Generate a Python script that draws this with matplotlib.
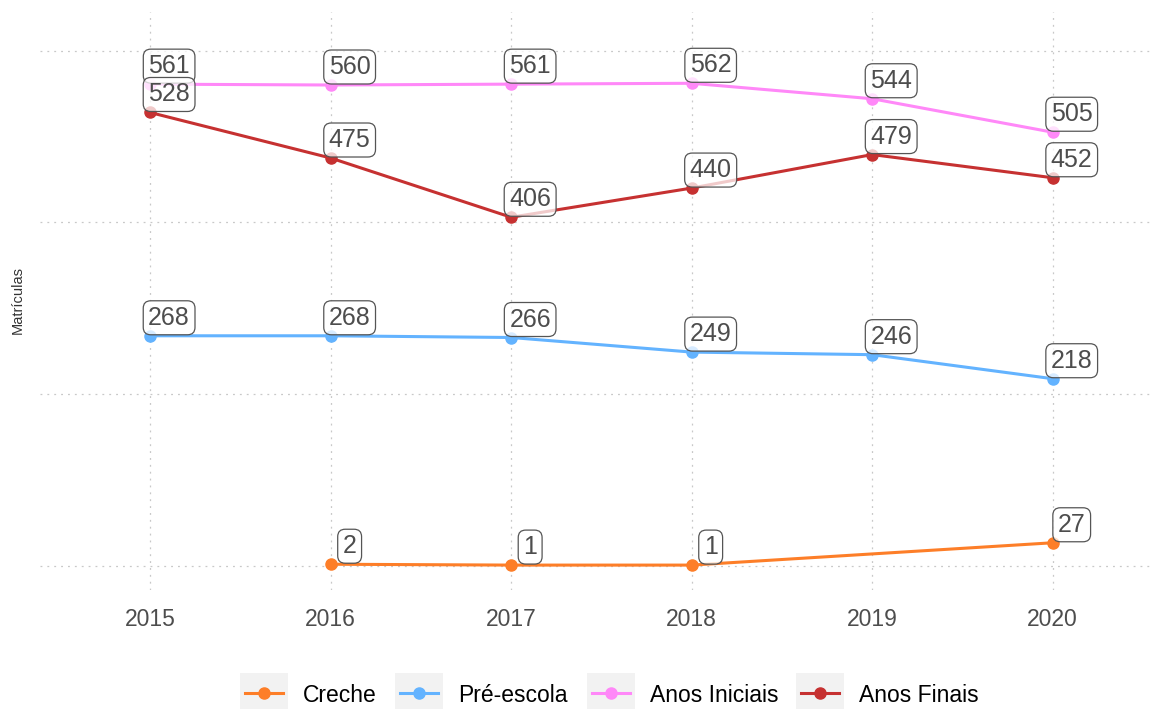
import matplotlib as mpl
mpl.use('Agg')
from matplotlib import pyplot as plt
from matplotlib.patches import Rectangle
from matplotlib.lines import Line2D

plt.rcParams['font.family'] = ['Liberation Sans', 'DejaVu Sans']

years = [2015, 2016, 2017, 2018, 2019, 2020]
creche_years = [2016, 2017, 2018, 2020]
creche = [2, 1, 1, 27]
pre_escola = [268, 268, 266, 249, 246, 218]
anos_iniciais = [561, 560, 561, 562, 544, 505]
anos_finais = [528, 475, 406, 440, 479, 452]

series = [
    ("Creche", creche_years, creche, "#fd7e28"),
    ("Pré-escola", years, pre_escola, "#63b3ff"),
    ("Anos Iniciais", years, anos_iniciais, "#ff88f8"),
    ("Anos Finais", years, anos_finais, "#c63131"),
]

W, H = 1158, 709
fig = plt.figure(figsize=(W / 100, H / 100), dpi=100)
ax = fig.add_axes([40 / W, 1 - 590 / H, (1152 - 40) / W, (590 - 12) / H])

ax.set_xlim(2014.39, 2020.55)
ax.set_ylim(-28, 645)
for s in ax.spines.values():
    s.set_visible(False)
ax.set_xticks(years)
ax.set_xticklabels([str(y) for y in years])
ax.set_yticks([0, 200, 400, 600])
ax.set_yticklabels([])
ax.tick_params(length=0, labelsize=16.5, labelcolor="#4d4d4d", pad=13)
ax.grid(True, color="#c8c8c8", linestyle=(0, (1.5, 4)), linewidth=0.9)
ax.set_axisbelow(True)

for name, xs, ys, col in series:
    ax.plot(xs, ys, color=col, linewidth=2.2, marker="o", markersize=8,
            solid_capstyle="round", zorder=3)

for name, xs, ys, col in series:
    for x, y in zip(xs, ys):
        ax.annotate(str(y), (x, y), xytext=(19, 18), textcoords="offset pixels",
                    ha="center", va="center", fontsize=18, color="#4d4d4d",
                    zorder=5,
                    bbox=dict(boxstyle="round,pad=0.2,rounding_size=0.3",
                              fc=(1, 1, 1, 0.75), ec="#555555", lw=0.9))

fig.text(18 / W, 1 - 300 / H, "Matrículas", rotation=90, ha="center",
         va="center", fontsize=10.5, color="#333333")

# legend drawn by hand at the bottom
key_x = [240, 395, 587, 796]
for (name, xs, ys, col), kx in zip(series, key_x):
    fig.patches.append(Rectangle((kx / W, 1 - 709 / H), 48 / W, 36 / H,
                                 transform=fig.transFigure, fc="#f2f2f2",
                                 ec="none"))
    yc = 1 - 693 / H
    fig.lines.append(Line2D([(kx + 5) / W, (kx + 43) / W], [yc, yc],
                            transform=fig.transFigure, color=col, lw=2.2))
    fig.lines.append(Line2D([(kx + 24) / W], [yc], transform=fig.transFigure,
                            color=col, marker="o", markersize=8))
    fig.text((kx + 63) / W, yc - 2 / H, name, ha="left", va="center",
             fontsize=16.5, color="black")

fig.savefig("out.png", dpi=100)
